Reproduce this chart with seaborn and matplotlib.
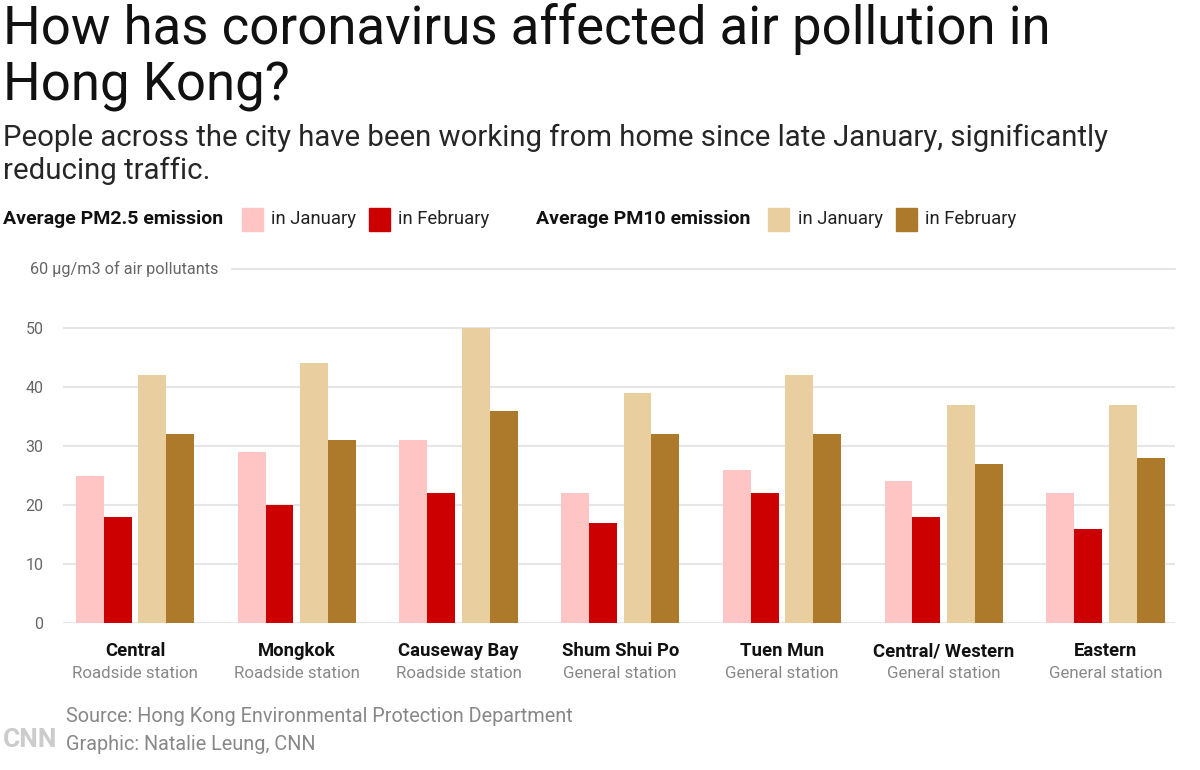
import numpy as np
import pandas as pd
import seaborn as sns
import matplotlib
import matplotlib.pyplot as plt
from matplotlib.patches import Rectangle
from matplotlib.transforms import blended_transform_factory

# data read from the CNN graphic
stations = ['Central', 'Mongkok', 'Causeway Bay', 'Shum Shui Po',
            'Tuen Mun', 'Central/ Western', 'Eastern']
station_types = ['Roadside station', 'Roadside station', 'Roadside station',
                 'General station', 'General station', 'General station',
                 'General station']
pm25_jan = [25, 29, 31, 22, 26, 24, 22]
pm25_feb = [18, 20, 22, 17, 22, 18, 16]
pm10_jan = [42, 44, 50, 39, 42, 37, 37]
pm10_feb = [32, 31, 36, 32, 32, 27, 28]
y_ticks = [0, 10, 20, 30, 40, 50]

pink, red, beige, brown = '#ffc4c4', '#cc0000', '#e9cf9f', '#ad7a2c'

sns.set_theme(style="white")
plt.rcParams['font.family'] = ['Roboto', 'DejaVu Sans']

fig = plt.figure(figsize=(12, 7.7), dpi=100)
ax = fig.add_axes([63/1200, 1 - 623/770, 1112/1200, (623 - 269)/770])

idx = np.arange(len(stations))
pm25 = pd.DataFrame({'x': np.concatenate([idx - 0.193, idx - 0.193]),
                     'val': pm25_jan + pm25_feb,
                     'month': ['Jan'] * 7 + ['Feb'] * 7})
pm10 = pd.DataFrame({'x': np.concatenate([idx + 0.193, idx + 0.193]),
                     'val': pm10_jan + pm10_feb,
                     'month': ['Jan'] * 7 + ['Feb'] * 7})

sns.barplot(data=pm25, x='x', y='val', hue='month', native_scale=True,
            palette=[pink, red], width=0.345, linewidth=0, saturation=1,
            legend=False, ax=ax, zorder=3)
sns.barplot(data=pm10, x='x', y='val', hue='month', native_scale=True,
            palette=[beige, brown], width=0.345, linewidth=0, saturation=1,
            legend=False, ax=ax, zorder=3)

ax.set_xlim(-0.445, 6.43)
ax.set_ylim(0, 60)
ax.set_xlabel('')
ax.set_ylabel('')
for s in ax.spines.values():
    s.set_visible(False)

# gridlines
for t in y_ticks:
    ax.axhline(t, color='#e6e6e6', lw=1.5, zorder=1)
ax.axhline(60, xmin=(232 - 63)/1112, xmax=1, color='#e6e6e6', lw=1.5,
           zorder=1, clip_on=False)

ax.set_yticks(y_ticks)
ax.set_yticklabels([str(t) for t in y_ticks], color='#666666', fontsize=11.5)
ax.tick_params(axis='y', length=0, pad=14)
ytrans = blended_transform_factory(fig.transFigure, ax.transData)
ax.text(30/1200, 60, '60 \u00b5g/m3 of air pollutants', transform=ytrans,
        color='#666666', fontsize=11.7, va='center', ha='left')

ax.set_xticks(idx)
ax.set_xticklabels(stations, fontsize=13.3, fontweight='bold', color='#111111')
ax.tick_params(axis='x', length=0, pad=14)
trans = blended_transform_factory(ax.transData, fig.transFigure)
for i, st in enumerate(station_types):
    ax.text(i, 1 - 673/770, st, transform=trans, ha='center', va='center',
            fontsize=12.2, color='#888888')

# title and subtitle
fig.text(3/1200, 1 - 29/770, 'How has coronavirus affected air pollution in',
         fontsize=38, fontweight='normal', color='#111111', va='center')
fig.text(3/1200, 1 - 86/770, 'Hong Kong?',
         fontsize=38, fontweight='normal', color='#111111', va='center')
fig.text(3/1200, 1 - 138/770,
         'People across the city have been working from home since late January, significantly',
         fontsize=21.2, color='#262626', va='center')
fig.text(3/1200, 1 - 171/770, 'reducing traffic.',
         fontsize=21.2, color='#262626', va='center')

# legend row
ly = 1 - 219/770
def patch(x0, color):
    fig.patches.append(Rectangle((x0/1200, 1 - 231/770), 21/1200, 23/770,
                                 transform=fig.transFigure, color=color))

fig.text(3/1200, ly, 'Average PM2.5 emission', fontsize=14, fontweight='bold',
         va='center', color='#111111')
patch(242, pink)
fig.text(271/1200, ly, 'in January', fontsize=13.3, va='center', color='#222222')
patch(369, red)
fig.text(398/1200, ly, 'in February', fontsize=13.3, va='center', color='#222222')
fig.text(536/1200, ly, 'Average PM10 emission', fontsize=14, fontweight='bold',
         va='center', color='#111111')
patch(768, beige)
fig.text(798/1200, ly, 'in January', fontsize=13.3, va='center', color='#222222')
patch(896, brown)
fig.text(925/1200, ly, 'in February', fontsize=13.3, va='center', color='#222222')

# footer
fig.text(3/1200, 1 - 740/770, 'CNN', fontsize=19, fontweight='bold',
         color='#cccccc', va='center')
fig.text(66/1200, 1 - 716/770, 'Source: Hong Kong Environmental Protection Department',
         fontsize=14.3, color='#888888', va='center')
fig.text(66/1200, 1 - 744/770, 'Graphic: Natalie Leung, CNN',
         fontsize=14.3, color='#888888', va='center')

plt.savefig('out.png', dpi=100)
